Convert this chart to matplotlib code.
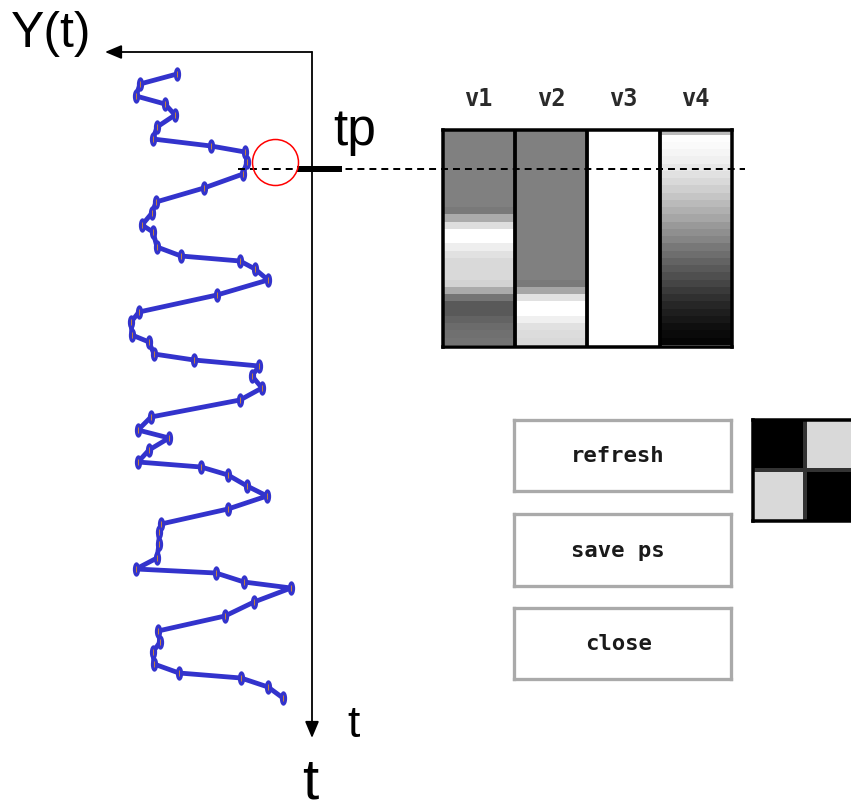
import matplotlib
matplotlib.use("Agg")
import matplotlib.pyplot as plt
from matplotlib.path import Path
from matplotlib.transforms import Affine2D

plt.rcParams['lines.scale_dashes'] = False

W, H = 851, 812
DPI = 100

# ---- trajectory Y(t): Y amplitude and time t (time runs downward) ----
Y_vals = [135, 172, 176, 147, 137, 155, 159, 101, 67, 65, 69, 108, 156, 160, 170,
          159, 155, 131, 72, 57, 44, 95, 173, 181, 180, 163, 158, 118, 53, 60,
          50, 72, 161, 174, 143, 163, 174, 111, 84, 65, 45, 84, 151, 153, 153,
          155, 176, 96, 68, 21, 58, 87, 154, 152, 159, 158, 133, 71, 44, 29]
t_vals = [22, 32, 44, 52, 63, 75, 87, 94, 100, 110, 122, 136, 150, 161, 173,
          180, 195, 204, 209, 217, 228, 243, 260, 270, 283, 290, 302, 308, 314, 324,
          336, 348, 365, 378, 386, 398, 410, 415, 423, 434, 444, 457, 472, 480, 492,
          506, 517, 521, 530, 536, 550, 564, 579, 590, 600, 612, 621, 626, 635, 646]

# selected time point and its marker
tp = 116.5
tp_circle_Y, tp_circle_t = 37, 109.5

# ---- variables v1..v4 sampled over time (grey levels, 0 = black, 1 = white) ----
var_names = ['v1', 'v2', 'v3', 'v4']
v1 = [0.50, 0.50, 0.50, 0.50, 0.50, 0.50, 0.50, 0.50, 0.50, 0.50,
      0.50, 0.48, 0.67, 0.87, 1.00, 1.00, 0.93, 0.88, 0.85, 0.85,
      0.85, 0.83, 0.67, 0.46, 0.35, 0.35, 0.39, 0.42, 0.44, 0.45]
v2 = [0.50, 0.50, 0.50, 0.50, 0.50, 0.50, 0.50, 0.50, 0.50, 0.50,
      0.50, 0.50, 0.50, 0.50, 0.50, 0.50, 0.50, 0.50, 0.50, 0.50,
      0.50, 0.48, 0.65, 0.88, 1.00, 1.00, 0.94, 0.88, 0.86, 0.85]
v3 = [1.00, 1.00, 1.00, 1.00, 1.00, 1.00, 1.00, 1.00, 1.00, 1.00,
      1.00, 1.00, 1.00, 1.00, 1.00, 1.00, 1.00, 1.00, 1.00, 1.00,
      1.00, 1.00, 1.00, 1.00, 1.00, 1.00, 1.00, 1.00, 1.00, 1.00]
v4 = [0.73, 0.99, 0.98, 0.96, 0.94, 0.91, 0.88, 0.85, 0.81, 0.77,
      0.73, 0.69, 0.65, 0.60, 0.56, 0.52, 0.47, 0.43, 0.39, 0.35,
      0.31, 0.27, 0.23, 0.19, 0.15, 0.12, 0.09, 0.06, 0.04, 0.02]

# ---- 2x2 pattern preview ----
pattern = [[0.0, 0.85],
           [0.85, 0.0]]

button_labels = ['refresh', 'save ps', 'close']


def rect(x0, y0, x1, y1):
    """Pixel box (top-left origin) -> figure fraction [left, bottom, width, height]."""
    return [x0 / W, 1 - y1 / H, (x1 - x0) / W, (y1 - y0) / H]


def px(x, y):
    return x / W, 1 - y / H


def pt(n_px):
    return n_px * 72.0 / DPI


fig = plt.figure(figsize=(W / DPI, H / DPI), dpi=DPI)
fig.patch.set_facecolor('white')

# ---------------- heat map of v1..v4 ----------------
ax_h = fig.add_axes(rect(442.5, 130.5, 732, 347.5))
data = [[v1[i], v2[i], v3[i], v4[i]] for i in range(len(v1))]
ax_h.imshow(data, cmap='gray', vmin=0, vmax=1, aspect='auto',
            interpolation='nearest')
ax_h.set_ylim(29.67, -0.26)
ax_h.set_xlim(-0.5, 3.5)
for xb in (0.5, 1.5, 2.5):
    ax_h.axvline(xb, color='black', lw=pt(3.8))
for s in ax_h.spines.values():
    s.set_linewidth(pt(3.5))
    s.set_color('black')
ax_h.set_xticks([])
ax_h.set_yticks([])
for i, name in enumerate(var_names):
    ax_h.annotate(name, xy=(i, 1), xycoords=('data', 'axes fraction'),
                  xytext=(0, pt(20)), textcoords='offset points',
                  ha='center', va='bottom', fontsize=17, fontweight='bold',
                  family='DejaVu Sans Mono', color='#2a2a2a')

# ---------------- buttons ----------------
button_boxes = [(514, 421, 731, 491.5), (514, 515, 731, 586.5), (514, 609, 731, 680)]
for (x0, y0, x1, y1), label in zip(button_boxes, button_labels):
    ab = fig.add_axes(rect(x0, y0, x1, y1))
    ab.set_xticks([])
    ab.set_yticks([])
    for s in ab.spines.values():
        s.set_linewidth(pt(3.3))
        s.set_color('#aaaaaa')
    ab.text(0.48, 0.5, label, ha='center', va='center', fontsize=16,
            fontweight='bold', family='DejaVu Sans Mono', color='#1a1a1a',
            transform=ab.transAxes)

# ---------------- pattern preview ----------------
ax_p = fig.add_axes(rect(753, 420.5, 857, 522))
ax_p.imshow(pattern, cmap='gray', vmin=0, vmax=1, aspect='auto',
            interpolation='nearest')
ax_p.axvline(0.5, color='#333333', lw=pt(4))
ax_p.axhline(0.5, color='#333333', lw=pt(4))
for s in ax_p.spines.values():
    s.set_linewidth(pt(3.5))
    s.set_color('black')
ax_p.set_xticks([])
ax_p.set_yticks([])

# ---------------- trajectory axes ----------------
ax = fig.add_axes(rect(105, 53, 312, 739))
ax.set_zorder(10)
ax.patch.set_visible(False)
ax.set_xlim(207, 0)
ax.set_ylim(686, 0)
for s in ax.spines.values():
    s.set_visible(False)
ax.set_xticks([])
ax.set_yticks([])

arrow_kw = dict(arrowstyle='-|>,head_length=1.0,head_width=0.42',
                color='black', lw=1.3, shrinkA=0, shrinkB=0)
ax.annotate('', xy=(0, 1), xytext=(1, 1), xycoords='axes fraction',
            textcoords='axes fraction', arrowprops=arrow_kw)
ax.annotate('', xy=(1, 0), xytext=(1, 1), xycoords='axes fraction',
            textcoords='axes fraction', arrowprops=arrow_kw)

ellipse = Path.unit_circle().transformed(Affine2D().scale(0.45, 1.0))
ax.plot(Y_vals, t_vals, color='#3333cc', lw=pt(4.8), solid_joinstyle='round',
        solid_capstyle='round', marker=ellipse, markersize=pt(13),
        markerfacecolor='#3333cc', markeredgecolor='#3333cc', zorder=3)
ax.plot(Y_vals, t_vals, ls='none', marker='|', markersize=pt(6),
        markeredgewidth=0.7, color='#c8843a', zorder=4)

# time-point guide: dashed line, tick and circle
ax.plot([74, -433], [tp, tp], color='black', lw=pt(2), dashes=(5, 3.6),
        clip_on=False, zorder=5)
ax.plot([15, -30], [tp + 0.5, tp + 0.5], color='black', lw=pt(6),
        solid_capstyle='butt', clip_on=False, zorder=6)
ax.plot([tp_circle_Y], [tp_circle_t], marker='o', markersize=pt(46),
        markerfacecolor='none', markeredgecolor='red', markeredgewidth=1.1,
        clip_on=False, zorder=6)

ax.text(-21, tp - 24.5, 'tp', fontsize=37, family='Liberation Sans',
        ha='left', va='baseline', clip_on=False)

# axis captions
fig.text(*px(11, 47), 'Y(t)', fontsize=36, family='Liberation Sans',
         ha='left', va='baseline')
fig.text(*px(347, 737), 't', fontsize=32, family='Liberation Sans',
         ha='left', va='baseline')
fig.text(*px(302, 811), 't', fontsize=42, family='Liberation Sans',
         ha='left', va='bottom')

fig.savefig('out.png', dpi=DPI)
